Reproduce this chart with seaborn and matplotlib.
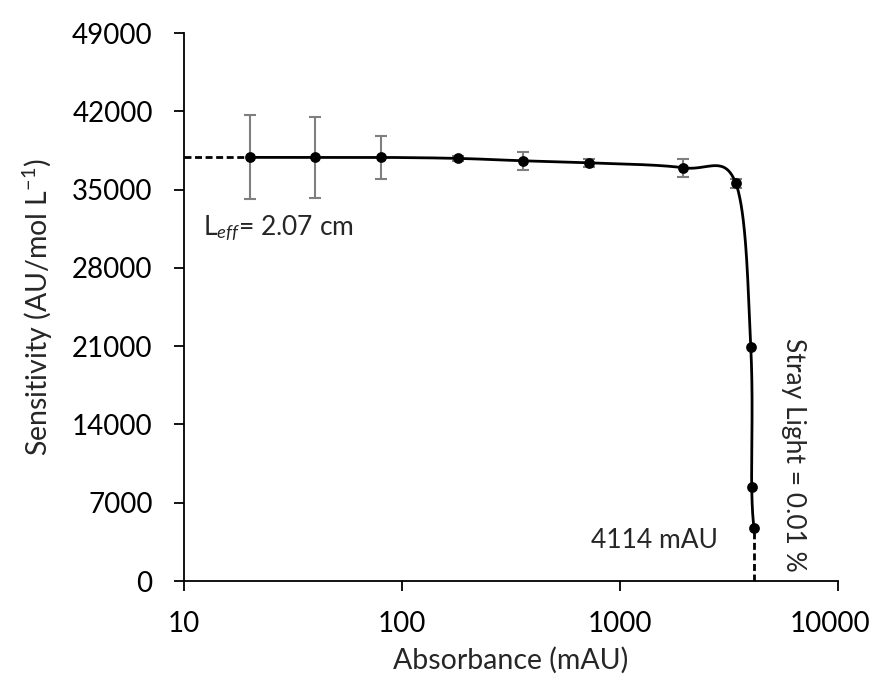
import numpy as np
import matplotlib
matplotlib.use("Agg")
import matplotlib.pyplot as plt
import matplotlib.transforms as mtransforms
import seaborn as sns
import pandas as pd

# Measured sensitivity vs. absorbance
absorbance = [20, 40, 80, 180, 360, 720, 1950, 3400, 3980, 4020, 4114]
sensitivity = [37880, 37880, 37880, 37790, 37575, 37395, 36950, 35555, 20900, 8430, 4710]
sens_err = [3750, 3650, 1890, 200, 820, 350, 780, 400, 0, 0, 0]

y_ticks = [0, 7000, 14000, 21000, 28000, 35000, 42000, 49000]
x_ticks = [10, 100, 1000, 10000]
leff_label = r"L$_{\mathit{eff}}$= 2.07 cm"
cutoff_label = "4114 mAU"
stray_label = "Stray Light = 0.01 %"
cutoff_abs = 4114

df = pd.DataFrame({"abs": absorbance, "sens": sensitivity, "err": sens_err})

sns.set_style("ticks")
plt.rcParams["font.family"] = ["Lato", "DejaVu Sans"]
plt.rcParams["mathtext.fontset"] = "custom"
plt.rcParams["mathtext.rm"] = "Lato"
plt.rcParams["mathtext.it"] = "Lato:italic"

fig = plt.figure(figsize=(8.77, 6.88), dpi=100)
ax = fig.add_axes([0.2098, 0.1555, 0.7457, 0.7965])

xmin, xmax, ymin, ymax = 10, 10000, 0, 49000
W, H = 654.0, 548.0

# Smoothed connecting line: Catmull-Rom (Bezier) spline in screen-like space
u = (np.log10(df["abs"].values) - np.log10(xmin)) / (np.log10(xmax) - np.log10(xmin)) * W
v = (df["sens"].values - ymin) / (ymax - ymin) * H
P = np.column_stack([u, v])
n = len(P)
curve = []
t = np.linspace(0, 1, 60)[:, None]
for i in range(n - 1):
    p0, p3 = P[i], P[i + 1]
    prev = P[i - 1] if i > 0 else P[i]
    nxt = P[i + 2] if i + 2 < n else P[i + 1]
    c1 = p0 + (p3 - prev) / 6.0
    c2 = p3 - (nxt - p0) / 6.0
    seg = (1 - t) ** 3 * p0 + 3 * (1 - t) ** 2 * t * c1 + 3 * (1 - t) * t ** 2 * c2 + t ** 3 * p3
    curve.append(seg)
curve = np.vstack(curve)
cx = 10 ** (curve[:, 0] / W * (np.log10(xmax) - np.log10(xmin)) + np.log10(xmin))
cy = curve[:, 1] / H * (ymax - ymin) + ymin
ax.plot(cx, cy, color="black", lw=2.0, zorder=3)

# Error bars
mask = df["err"] > 0
ax.errorbar(df["abs"][mask], df["sens"][mask], yerr=df["err"][mask], fmt="none",
            ecolor="#7f7f7f", elinewidth=1.5, capsize=4.5, capthick=1.5, zorder=2)

# Data points
sns.scatterplot(data=df, x="abs", y="sens", ax=ax, color="black", s=60,
                edgecolor="black", linewidth=0, zorder=4)

# Reference lines
dash = (0, (2.5, 1.3))
ax.plot([xmin, absorbance[0]], [sensitivity[0], sensitivity[0]], color="black",
        lw=2.0, ls=dash, zorder=3)
ax.plot([cutoff_abs, cutoff_abs], [0, sensitivity[-1]], color="black",
        lw=2.0, ls=dash, zorder=3)

ax.set_xscale("log")
ax.set_xlim(xmin, xmax)
ax.set_ylim(ymin, ymax)
ax.set_xticks(x_ticks)
ax.set_xticklabels([str(v) for v in x_ticks])
ax.xaxis.set_minor_locator(matplotlib.ticker.NullLocator())
ax.set_yticks(y_ticks)
ax.set_yticklabels([str(v) for v in y_ticks])
ax.tick_params(axis="both", labelsize=20, length=7.5, width=1.3, direction="out",
               colors="black")
ax.tick_params(axis="y", pad=15)
ax.tick_params(axis="x", pad=14)
for s in ["top", "right"]:
    ax.spines[s].set_visible(False)
for s in ["left", "bottom"]:
    ax.spines[s].set_linewidth(1.3)
    ax.spines[s].set_color("black")

# keep the last x tick label inside the figure
last = ax.get_xticklabels()[-1]
last.set_transform(last.get_transform() +
                   mtransforms.ScaledTranslation(-6 / 72, 0, fig.dpi_scale_trans))

ax.set_xlabel("Absorbance (mAU)", fontsize=20.5, labelpad=7)
ax.set_ylabel(r"Sensitivity (AU/mol L$^{\mathregular{-1}}$)", fontsize=20.5, labelpad=12)

ax.text(12.2, 30900, leff_label, fontsize=19, ha="left", va="baseline")
ax.text(1432, 3665, cutoff_label, fontsize=19, ha="center", va="center")
ax.text(6220, 11264, stray_label, fontsize=19, ha="center", va="center", rotation=-90)

fig.savefig("out.png", dpi=100, facecolor="white")
